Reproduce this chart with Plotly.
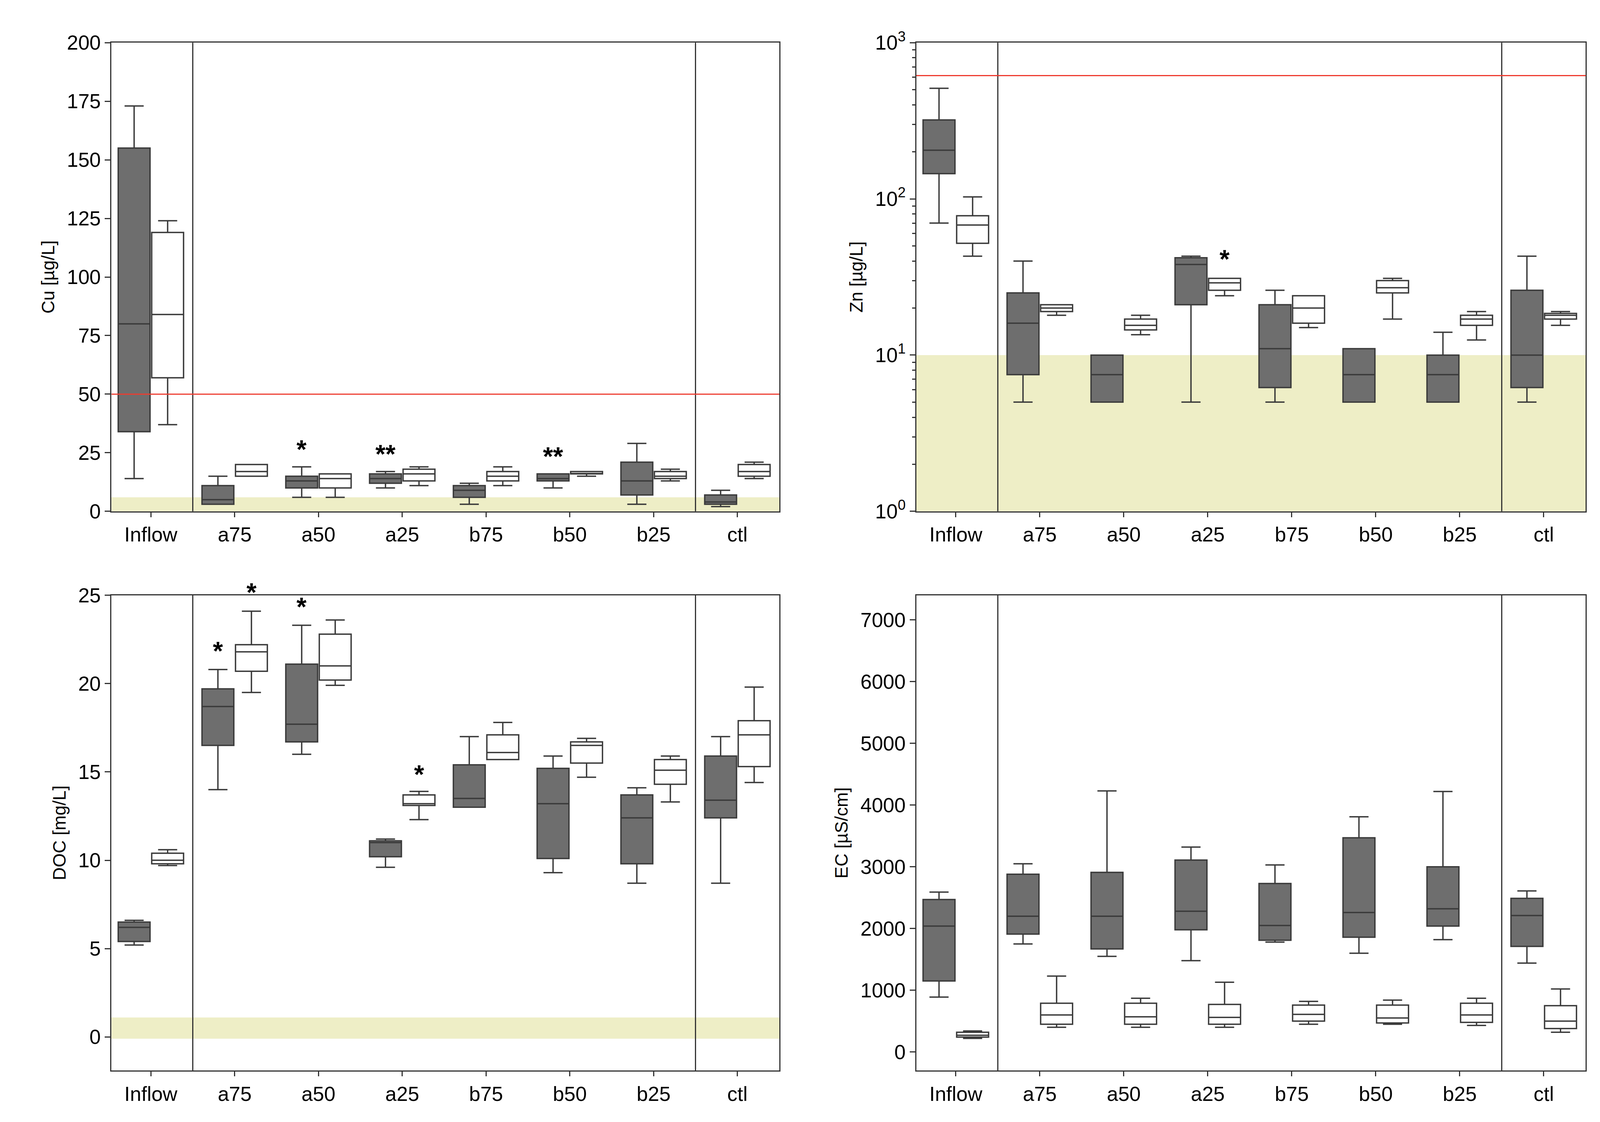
import math
import plotly.graph_objects as go

cats = ["Inflow", "a75", "a50", "a25", "b75", "b50", "b25", "ctl"]

# each box: [low whisker, q1, median, q3, high whisker]
cu_dark = [[14, 34, 80, 155, 173], [3, 3, 5, 11, 15], [6, 10, 13, 15, 19], [10, 12, 14, 16, 17],
           [3, 6, 9, 11, 12], [10, 13, 14, 16, 16], [3, 7, 13, 21, 29], [2, 3, 4, 7, 9]]
cu_white = [[37, 57, 84, 119, 124], [15, 15, 17, 20, 20], [6, 10, 14, 16, 16], [11, 13, 16, 18, 19],
            [11, 13, 15, 17, 19], [15, 16, 16, 17, 17], [13, 14, 15, 17, 18], [14, 15, 17, 20, 21]]
zn_dark = [[70, 145, 205, 320, 510], [5, 7.5, 16, 25, 40], [5, 5, 7.5, 10, 10], [5, 21, 38, 42, 43],
           [5, 6.2, 11, 21, 26], [5, 5, 7.5, 11, 11], [5, 5, 7.5, 10, 14], [5, 6.2, 10, 26, 43]]
zn_white = [[43, 52, 68, 78, 103], [18, 19, 20, 21, 21], [13.5, 14.5, 15.5, 17, 18], [24, 26, 29, 31, 31],
            [15, 16, 20, 24, 24], [17, 25, 27, 30, 31], [12.5, 15.5, 17, 18, 19], [15.5, 17, 18, 18.5, 19]]
doc_dark = [[5.2, 5.4, 6.2, 6.5, 6.6], [14, 16.5, 18.7, 19.7, 20.8], [16, 16.7, 17.7, 21.1, 23.3],
            [9.6, 10.2, 11.0, 11.1, 11.2], [13, 13, 13.5, 15.4, 17], [9.3, 10.1, 13.2, 15.2, 15.9],
            [8.7, 9.8, 12.4, 13.7, 14.1], [8.7, 12.4, 13.4, 15.9, 17]]
doc_white = [[9.7, 9.8, 10.0, 10.4, 10.6], [19.5, 20.7, 21.8, 22.2, 24.1], [19.9, 20.2, 21.0, 22.8, 23.6],
             [12.3, 13.1, 13.2, 13.7, 13.9], [15.7, 15.7, 16.1, 17.1, 17.8], [14.7, 15.5, 16.5, 16.7, 16.9],
             [13.3, 14.3, 15.1, 15.7, 15.9], [14.4, 15.3, 17.1, 17.9, 19.8]]
ec_dark = [[890, 1150, 2040, 2470, 2590], [1750, 1910, 2200, 2880, 3050], [1550, 1670, 2200, 2910, 4230],
           [1480, 1980, 2280, 3110, 3320], [1780, 1810, 2050, 2730, 3030], [1600, 1860, 2260, 3470, 3810],
           [1820, 2040, 2320, 3000, 4220], [1440, 1710, 2210, 2490, 2610]]
ec_white = [[220, 240, 270, 320, 340], [400, 450, 600, 790, 1230], [400, 450, 570, 790, 870],
            [400, 450, 560, 770, 1130], [450, 500, 610, 760, 820], [450, 470, 550, 760, 840],
            [430, 480, 600, 790, 870], [320, 380, 500, 750, 1020]]

# stars: (category index, dark/white, y, text)
cu_stars = [(2, "d", 20, "*"), (3, "d", 18, "**"), (5, "d", 17, "**")]
zn_stars = [(3, "w", 33, "*")]
doc_stars = [(1, "d", 21.0, "*"), (1, "w", 24.3, "*"), (2, "d", 23.5, "*"), (3, "w", 14.0, "*")]
ec_stars = []

panels = [
    dict(d=cu_dark, w=cu_white, stars=cu_stars, title="Cu [µg/L]", rng=[0, 200], log=False,
         ticks=[0, 25, 50, 75, 100, 125, 150, 175, 200], red=50, band=(0, 6),
         dom_x=[0.068, 0.487], dom_y=[0.547, 0.977]),
    dict(d=zn_dark, w=zn_white, stars=zn_stars, title="Zn [µg/L]", rng=[0, 3], log=True,
         ticks=[1, 10, 100, 1000], red=615, band=(1, 10),
         dom_x=[0.573, 0.993], dom_y=[0.547, 0.977]),
    dict(d=doc_dark, w=doc_white, stars=doc_stars, title="DOC [mg/L]", rng=[-1.9, 25], log=False,
         ticks=[0, 5, 10, 15, 20, 25], red=None, band=(-0.1, 1.1),
         dom_x=[0.068, 0.487], dom_y=[0.034, 0.470]),
    dict(d=ec_dark, w=ec_white, stars=ec_stars, title="EC [µS/cm]", rng=[-300, 7400], log=False,
         ticks=[0, 1000, 2000, 3000, 4000, 5000, 6000, 7000], red=None, band=None,
         dom_x=[0.573, 0.993], dom_y=[0.034, 0.470]),
]

FONT = "Liberation Sans, Arial"
off = 0.2
fig = go.Figure()
layout = {}
shapes = []
annots = []

for k, p in enumerate(panels):
    n = "" if k == 0 else str(k + 1)
    xa, ya = "x" + n, "y" + n
    for series, sh, fill in [(p["d"], -off, "#6e6e6e"), (p["w"], off, "white")]:
        fig.add_trace(go.Box(
            x=[i + sh for i in range(len(cats))],
            lowerfence=[b[0] for b in series], q1=[b[1] for b in series],
            median=[b[2] for b in series], q3=[b[3] for b in series],
            upperfence=[b[4] for b in series],
            width=0.38, whiskerwidth=0.6, fillcolor=fill,
            line=dict(color="#3a3a3a", width=3.5), boxpoints=False,
            showlegend=False, xaxis=xa, yaxis=ya, hoverinfo="skip"))
    layout["xaxis" + n] = dict(
        domain=p["dom_x"], anchor=ya, range=[-0.47, 7.5], tickvals=list(range(8)), ticktext=cats,
        showgrid=False, zeroline=False, showline=True, mirror=True, linecolor="#333", linewidth=3,
        ticks="outside", ticklen=12, tickwidth=3, tickcolor="#333",
        tickfont=dict(size=52, family=FONT, color="black"))
    yax = dict(
        domain=p["dom_y"], anchor=xa, showgrid=False, zeroline=False, showline=True, mirror=True,
        linecolor="#333", linewidth=3, ticks="outside", ticklen=14, tickwidth=3, tickcolor="#333",
        tickfont=dict(size=52, family=FONT, color="black"), tickvals=p["ticks"],
        title=dict(text=p["title"], font=dict(size=46, family=FONT, color="black"), standoff=18))
    if p["log"]:
        yax.update(type="log", range=p["rng"],
                   ticktext=["10<sup>0</sup>", "10<sup>1</sup>", "10<sup>2</sup>", "10<sup>3</sup>"],
                   minor=dict(ticks="outside", ticklen=8, tickwidth=3, tickcolor="#333",
                              tickvals=[m * 10 ** e for e in range(3) for m in range(2, 10)]))
    else:
        yax.update(range=p["rng"])
    layout["yaxis" + n] = yax
    for xv in [0.5, 6.5]:
        shapes.append(dict(type="line", xref=xa, yref=ya + " domain", x0=xv, x1=xv, y0=0, y1=1,
                           line=dict(color="#333", width=3)))
    if p["band"]:
        shapes.append(dict(type="rect", xref=xa + " domain", yref=ya, x0=0, x1=1,
                           y0=p["band"][0], y1=p["band"][1], fillcolor="#eeeec6",
                           line=dict(width=0), layer="below"))
    if p["red"] is not None:
        shapes.append(dict(type="line", xref=xa + " domain", yref=ya, x0=0, x1=1,
                           y0=p["red"], y1=p["red"], line=dict(color="#ee3b2f", width=3)))
    for ci, side, yv, txt in p["stars"]:
        annots.append(dict(x=ci + (-off if side == "d" else off), y=math.log10(yv) if p["log"] else yv,
                           xref=xa, yref=ya, text="<b>" + txt + "</b>", showarrow=False, yanchor="bottom",
                           font=dict(size=66, family=FONT, color="black")))

fig.update_layout(**layout, shapes=shapes, annotations=annots,
                  margin=dict(l=0, r=0, t=0, b=0), plot_bgcolor="white", paper_bgcolor="white")
fig.write_html("out.html")
